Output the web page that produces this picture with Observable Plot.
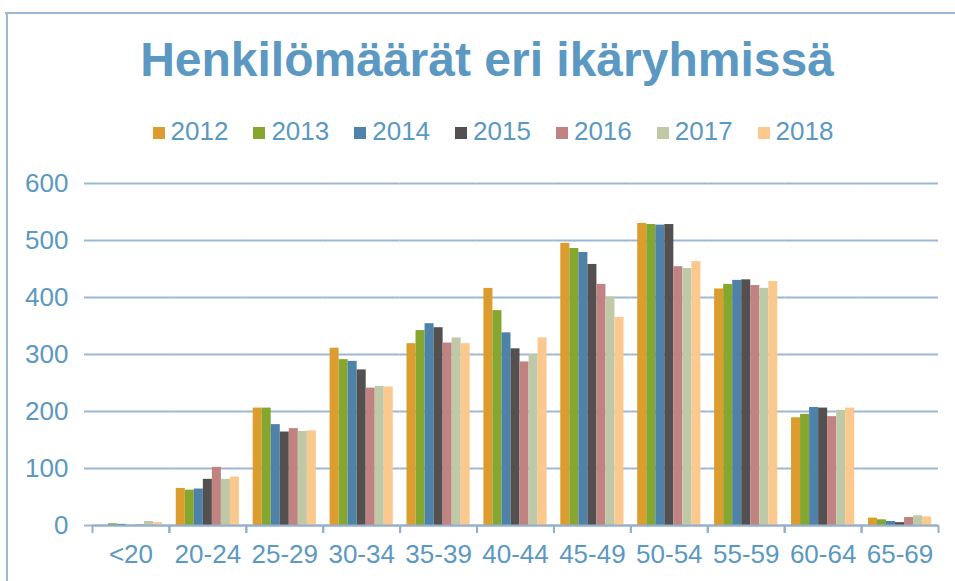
<!DOCTYPE html>
<html>
<head>
<meta charset="utf-8">
<script src="https://cdn.jsdelivr.net/npm/d3@7"></script>
<script src="https://cdn.jsdelivr.net/npm/@observablehq/plot@0.6"></script>
<style>
  html, body { margin: 0; padding: 0; background: #fff; }
  #wrap { position: relative; width: 955px; height: 581px; overflow: hidden; font-family: "Liberation Sans", Arial, sans-serif; }
  #frameTop { position: absolute; left: 5px; top: 12px; width: 950px; height: 2px; background: #9DB8D4; }
  #frameLeft { position: absolute; left: 6px; top: 12px; width: 2px; height: 570px; background: #9DB8D4; }
  #title { position: absolute; left: 0; top: 36px; width: 974px; text-align: center; font-weight: bold; font-size: 48px; line-height: 48px; color: #5B98C2; white-space: nowrap; }
  #legend { position: absolute; left: 0; top: 118px; width: 986px; display: flex; justify-content: center; gap: 25px; font-size: 26px; line-height: 26px; color: #5B98C2; }
  .item { display: flex; align-items: center; gap: 6px; }
  .sw { width: 12px; height: 12px; margin-top: 3px; }
  #chart { position: absolute; left: 0; top: 160px; }
</style>
</head>
<body>
<div id="wrap">
  <div id="frameTop"></div>
  <div id="frameLeft"></div>
  <div id="title">Henkilömäärät eri ikäryhmissä</div>
  <div id="legend"></div>
  <div id="chart"></div>
</div>
<script>
const groups = ["<20", "20-24", "25-29", "30-34", "35-39", "40-44", "45-49", "50-54", "55-59", "60-64", "65-69"];
const years = ["2012", "2013", "2014", "2015", "2016", "2017", "2018"];
const v2012 = [0, 65, 206, 311, 319, 416, 495, 530, 415, 189, 13];
const v2013 = [3, 62, 206, 291, 342, 377, 486, 528, 423, 195, 10];
const v2014 = [2, 64, 177, 288, 354, 338, 479, 527, 430, 207, 7];
const v2015 = [0, 81, 164, 273, 347, 310, 458, 528, 431, 206, 5];
const v2016 = [1, 102, 170, 241, 320, 287, 423, 454, 421, 191, 14];
const v2017 = [7, 81, 165, 244, 329, 300, 401, 451, 416, 202, 17];
const v2018 = [5, 85, 166, 243, 319, 329, 365, 463, 428, 206, 15];
const yTicks = [0, 100, 200, 300, 400, 500, 600];
const colors = ["#DC9C2E", "#86A72F", "#4F82A8", "#545050", "#C08382", "#BFC9A8", "#FBC98D"];

const series = [v2012, v2013, v2014, v2015, v2016, v2017, v2018];
const data = groups.flatMap((g, i) => years.map((yr, j) => ({group: g, year: yr, value: series[j][i]})));

const textColor = "#5B98C2";
const gridColor = "#9DB8D4";
const axisColor = "#94AFCB";

// legend
const legend = document.getElementById("legend");
years.forEach((yr, j) => {
  const it = document.createElement("div");
  it.className = "item";
  const sw = document.createElement("div");
  sw.className = "sw";
  sw.style.background = colors[j];
  const tx = document.createElement("span");
  tx.textContent = yr;
  it.appendChild(sw); it.appendChild(tx);
  legend.appendChild(it);
});

const W = 955, mL = 92, mR = 17;
const bw = (W - mL - mR) / groups.length;

const chart = Plot.plot({
  width: W,
  height: 421,
  marginTop: 23,
  marginBottom: 56,
  marginLeft: mL,
  marginRight: mR,
  style: {fontFamily: "'Liberation Sans', Arial, sans-serif", fontSize: "26px", color: textColor, background: "transparent"},
  fx: {domain: groups, padding: 0, round: false, label: null, axis: null},
  x: {domain: years, paddingInner: 0, paddingOuter: 0.76, round: false, axis: null},
  y: {domain: [0, 600], label: null, axis: null},
  color: {domain: years, range: colors},
  marks: [
    Plot.gridY(yTicks, {stroke: gridColor, strokeOpacity: 1, strokeWidth: 2}),
    Plot.axisY(yTicks, {tickSize: 8, tickPadding: 16, stroke: gridColor, strokeOpacity: 1, strokeWidth: 2, fontSize: 26, label: null}),
    Plot.barY(data, {fx: "group", x: "year", y: "value", fill: "year"}),
    Plot.ruleY([0], {stroke: axisColor, strokeWidth: 2}),
    Plot.ruleX([0], {frameAnchor: "left", facetAnchor: "left", y1: 0, y2: 600, stroke: axisColor, strokeWidth: 2}),
    Plot.axisFx({anchor: "bottom", tickSize: 0, tickPadding: 19, fontSize: 26, label: null}),
    Plot.axisFx({anchor: "bottom", tickSize: 8, tickFormat: () => "", dx: -bw / 2, stroke: axisColor, strokeOpacity: 1, strokeWidth: 2, label: null}),
    Plot.axisFx({anchor: "bottom", tickSize: 8, tickFormat: () => "", dx: bw / 2, stroke: axisColor, strokeOpacity: 1, strokeWidth: 2, label: null})
  ]
});
document.getElementById("chart").appendChild(chart);
</script>
</body>
</html>
